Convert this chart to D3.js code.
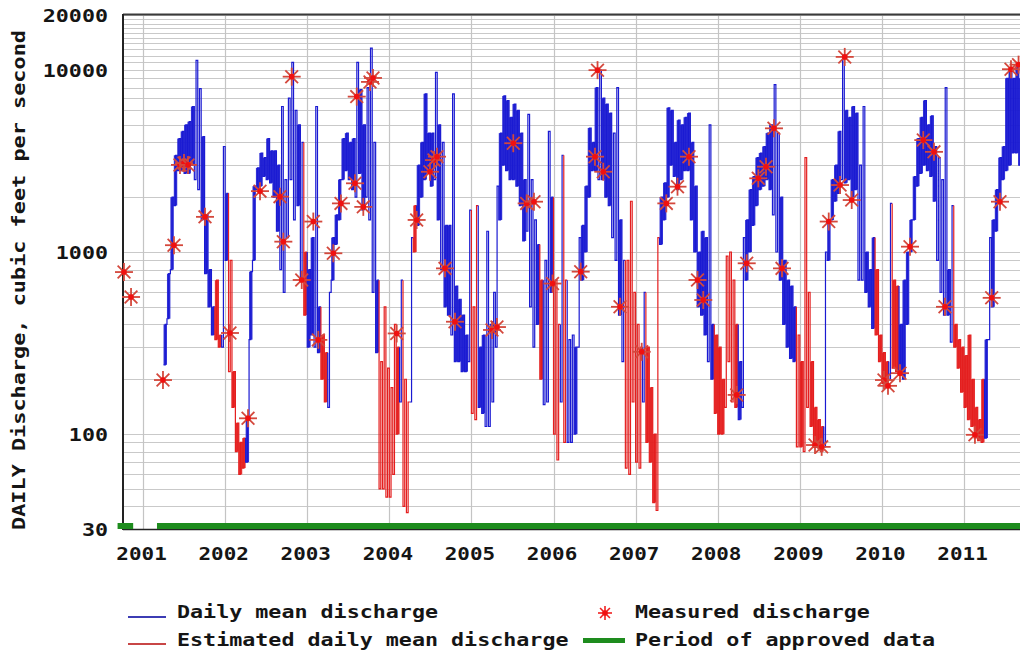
<!DOCTYPE html>
<html>
<head>
<meta charset="utf-8">
<script src="https://cdn.jsdelivr.net/npm/d3@7"></script>
<style>
  body { margin: 0; background: #fff; }
  svg { display: block; }
  text { font-family: "DejaVu Sans Mono", "Liberation Mono", monospace; font-weight: bold; fill: #151515; }
</style>
</head>
<body>
<div class="div-chart"></div>
<script>
// Water years run Oct 1 - Sep 30; each one is read as 24 half-month periods.
const waterYears = [2001, 2002, 2003, 2004, 2005, 2006, 2007, 2008, 2009, 2010, 2011];

// lowest daily mean discharge in each half month (cfs), null = no record
const periodLow = [
  [null, null, null, null, null, null, null, null, null, null, null, null, 240, 430, 800, 1800, 2800, 2800, 2700, 2700, 3000, 2500, 2200, 1500],
  [760, 500, 350, 330, 300, 300, 900, 220, 140, 80, 60, 65, 70, 330, 900, 2200, 2300, 2600, 2500, 2400, 2000, 1300, 800, 600],
  [1200, 2500, 1500, 1800, 700, 450, 300, 350, 300, 280, 200, 150, 140, 700, 1100, 1500, 2500, 2800, 2500, 2200, 2000, 2700, 1700, 2000],
  [1500, 600, 280, 50, 50, 45, 45, 60, 100, 150, 40, 37, 150, 1000, 1400, 2000, 2500, 2800, 2300, 2500, 1500, 800, 500, 450],
  [350, 250, 250, 220, 220, 250, 130, 120, 140, 130, 110, 110, 150, 300, 1500, 3000, 2800, 2500, 2500, 2300, 1800, 1150, 1300, 500],
  [300, 400, 200, 145, 150, 600, 100, 72, 150, 90, 90, 90, 100, 300, 700, 1000, 2000, 2800, 2800, 2500, 2500, 2000, 1800, 1200],
  [900, 450, 250, 65, 60, 150, 70, 65, 150, 90, 70, 42, 38, 1100, 1500, 2000, 3000, 2600, 2200, 2500, 2800, 2800, 1500, 1000],
  [500, 450, 350, 250, 200, 130, 100, 100, 140, 250, 150, 140, 120, 140, 700, 1000, 1400, 1800, 2200, 2300, 2500, 2200, 1600, 1000],
  [700, 400, 300, 260, 250, 85, 85, 80, 140, 110, 85, 85, 80, 85, 900, 1500, 1900, 2100, 2500, 2400, 2500, 2000, 2200, 700],
  [700, 600, 500, 380, 350, 250, 190, 180, 200, 230, 220, 210, 200, 400, 1000, 1500, 2300, 2700, 3000, 2800, 2600, 1900, 900, 600],
  [450, 450, 320, 300, 230, 170, 140, 120, 110, 95, 92, 90, 95, 330, 500, 1300, 1900, 2500, 2800, 3000, 3500, 3500, 3000, 3000]
];

// highest daily mean discharge in each half month (cfs)
const periodHigh = [
  [null, null, null, null, null, null, null, null, null, null, null, null, 400, 760, 2000, 3400, 4200, 4600, 5000, 5200, 6300, 11300, 7900, 4300],
  [1600, 800, 500, 700, 350, 3800, 2100, 900, 220, 115, 90, 95, 125, 780, 2300, 2900, 3500, 3300, 4200, 3600, 3600, 3000, 6300, 2500],
  [7000, 11000, 6000, 5000, 4000, 1000, 800, 1200, 6300, 500, 350, 280, 600, 1200, 1600, 2500, 4200, 4500, 4000, 4200, 11000, 7800, 5000, 8000],
  [13200, 4000, 700, 250, 500, 230, 180, 400, 300, 700, 200, 150, 1200, 1800, 3000, 4000, 7400, 4500, 4500, 9700, 5000, 4000, 1400, 1400],
  [7400, 650, 550, 450, 350, 1700, 500, 1800, 300, 350, 1300, 400, 600, 2300, 4500, 7200, 6800, 5500, 6500, 6000, 4500, 2500, 5700, 2500],
  [1500, 1100, 700, 900, 4600, 2000, 700, 400, 3400, 700, 330, 350, 300, 1200, 1400, 2300, 4800, 4000, 8000, 10000, 7000, 6500, 5800, 4500],
  [8000, 1500, 900, 900, 1900, 600, 400, 300, 600, 300, 180, 100, 1200, 2000, 2400, 6200, 6000, 4000, 5300, 5000, 5500, 5800, 4000, 2300],
  [1000, 1300, 1200, 5000, 400, 350, 300, 200, 950, 1000, 700, 400, 250, 1200, 1500, 2200, 2600, 3300, 3500, 3800, 4500, 5000, 8300, 4500],
  [2000, 900, 700, 650, 500, 350, 250, 3300, 600, 250, 140, 120, 110, 1000, 1500, 2500, 3000, 4600, 12000, 6000, 5500, 6300, 5800, 3000],
  [6300, 1000, 800, 1200, 800, 350, 280, 250, 1850, 700, 650, 400, 700, 1000, 1500, 2600, 4200, 5500, 6800, 5000, 5600, 3800, 3300, 2500],
  [8000, 800, 1800, 400, 330, 300, 270, 350, 200, 140, 120, 200, 330, 1200, 1500, 2200, 3300, 3800, 9000, 10000, 9000, 10500, 9000, 8000]
];

// A = approved daily values, E = estimated, - = no record
const periodQual = [
  "------------AAAAAAAAAAAA",
  "AAAEEAAEEEEEAAAAAAAAAAAA",
  "AAAAAEAAAAEEAAAAAAAAAAAA",
  "AAAEEEEEEAEEAEAAAAAAAAAA",
  "AAAAAAEEAAAAAAAAAAAAAAAA",
  "AAEAAAEEAEAAAAAAAAAAAAAA",
  "AAAEEEEEAEEEEAAAAAAAAAAA",
  "AAAAAEEEEEEEAAAAAAAAAAAA",
  "AAAAAEEEEEEEEAAAAAAAAAAA",
  "AAAAEEEEAEEAAAAAAAAAAAAA",
  "AAAEEEEEEEEEAAAAAAAAAAAA"
];

// field measurements (decimal year, cfs)
const measuredYear = [2000.768, 2000.854, 2001.243, 2001.377, 2001.450, 2001.499, 2001.548, 2001.755, 2002.059, 2002.279,
  2002.425, 2002.668, 2002.709, 2002.811, 2002.933, 2003.074, 2003.135, 2003.318, 2003.411, 2003.582,
  2003.603, 2003.683, 2003.765, 2003.801, 2004.090, 2004.333, 2004.495, 2004.544, 2004.581, 2004.678,
  2004.800, 2005.251, 2005.311, 2005.510, 2005.673, 2005.762, 2005.988, 2006.331, 2006.505, 2006.536,
  2006.606, 2006.810, 2007.074, 2007.374, 2007.510, 2007.650, 2007.754, 2007.824, 2008.231, 2008.353,
  2008.494, 2008.588, 2008.685, 2008.783, 2009.185, 2009.266, 2009.352, 2009.490, 2009.547, 2009.632,
  2010.025, 2010.074, 2010.220, 2010.342, 2010.504, 2010.634, 2010.768, 2011.133, 2011.337, 2011.438,
  2011.572, 2011.664];
const measuredValue = [776, 566, 198, 1090, 3010, 3080, 3010, 1560, 359, 122,
  2160, 2015, 1140, 9190, 702, 1470, 329, 984, 1850, 2385,
  7140, 1770, 8600, 9040, 357, 1500, 2760, 3200, 3340, 813,
  414, 373, 387, 3960, 1850, 1890, 671, 780, 3340, 9980,
  2760, 500, 283, 1850, 2285, 3340, 702, 545, 164, 867,
  2540, 2940, 4780, 813, 87, 85, 1470, 2333, 11800, 1930,
  198, 184, 216, 1070, 4120, 3550, 500, 99, 560, 1890,
  10100, 10700];

const approvedPeriods = [[2000.69, 2000.88], [2001.17, 2011.75]];

const yTickValues = [30, 100, 1000, 10000, 20000];
const yearTicks = [2001, 2002, 2003, 2004, 2005, 2006, 2007, 2008, 2009, 2010, 2011];

const width = 1020,
  height = 658;
const charW = 13.05; // the picture's monospace font is wide set

const blue = "#1a1ad2",
  red = "#e41e1e";

const svg = d3
  .select(".div-chart")
  .append("svg")
  .attr("width", width)
  .attr("height", height);

svg.append("rect").attr("width", width).attr("height", height).attr("fill", "#fff");

const x = d3.scaleLinear().domain([2000.75, 2011.75]).range([122.5, 1025.6]);
const y = d3.scaleLog().domain([30, 20000]).range([529.2, 15.2]);

const plotLeft = 123,
  plotRight = x(2011.75),
  plotTop = 15,
  plotBottom = 529;

// gridlines: every 10 below 100, every 100 below 1000, every 1000 above
const gridValues = [];
[10, 100, 1000].forEach((dec) => d3.range(1, 10).forEach((m) => gridValues.push(m * dec)));
d3.range(10000, 20001, 1000).forEach((v) => gridValues.push(v));

const gridG = svg.append("g").attr("id", "grid");
gridG
  .selectAll("line.h")
  .data(gridValues.filter((v) => v >= 30 && v <= 20000))
  .join("line")
  .attr("class", "h")
  .attr("x1", plotLeft)
  .attr("x2", plotRight)
  .attr("y1", (d) => Math.round(y(d)) + 0.5)
  .attr("y2", (d) => Math.round(y(d)) + 0.5)
  .attr("stroke", "#c9c9c9")
  .attr("stroke-width", 1);

gridG
  .selectAll("line.v")
  .data(yearTicks)
  .join("line")
  .attr("class", "v")
  .attr("x1", (d) => Math.round(x(d)) + 0.5)
  .attr("x2", (d) => Math.round(x(d)) + 0.5)
  .attr("y1", plotTop)
  .attr("y2", plotBottom)
  .attr("stroke", "#c4c4c4")
  .attr("stroke-width", 1.2);

// build the half-month records: low then high in each period
const periods = [];
const points = [];
waterYears.forEach((wy, i) => {
  for (let k = 0; k < 24; k++) {
    const q = periodQual[i][k];
    const t0 = wy - 0.25 + k / 24; // water year starts on Oct 1 of the previous year
    if (q === "-") {
      points.push(null);
      continue;
    }
    periods.push({ t0: t0, t1: t0 + 1 / 24, lo: periodLow[i][k], hi: periodHigh[i][k], q: q });
    points.push({ t: t0, v: periodLow[i][k], q: q });
    points.push({ t: t0 + 1 / 48, v: periodHigh[i][k], q: q });
  }
});

// split into runs of the same qualification so they can be coloured
const runs = [];
let cur = null;
points.forEach((p, i) => {
  if (!p) {
    cur = null;
    return;
  }
  if (!cur || cur.q !== p.q) {
    cur = { q: p.q, pts: [] };
    const prev = points[i - 1];
    if (prev) cur.pts.push({ t: p.t, v: prev.v });
    runs.push(cur);
  }
  cur.pts.push(p);
  const next = points[i + 1];
  if (!next || next.q !== p.q) {
    cur.pts.push({ t: next ? next.t : p.t + 1 / 48, v: p.v });
  }
});

svg
  .append("clipPath")
  .attr("id", "plot-clip")
  .append("rect")
  .attr("x", plotLeft)
  .attr("y", plotTop - 1)
  .attr("width", plotRight - plotLeft)
  .attr("height", plotBottom - plotTop + 1);

const plotG = svg.append("g").attr("clip-path", "url(#plot-clip)");

// half months where the daily values swing inside a narrow band read as a solid block
plotG
  .append("g")
  .selectAll("rect")
  .data(periods.filter((d) => d.hi / d.lo <= 3.5))
  .join("rect")
  .attr("x", (d) => x(d.t0))
  .attr("width", (d) => x(d.t1) - x(d.t0))
  .attr("y", (d) => y(d.hi))
  .attr("height", (d) => y(d.lo) - y(d.hi))
  .attr("fill", (d) => (d.q === "E" ? red : blue))
  .attr("opacity", 0.9);

const line = d3
  .line()
  .x((d) => x(d.t))
  .y((d) => y(d.v))
  .curve(d3.curveStepAfter);

plotG
  .append("g")
  .selectAll("path")
  .data(runs)
  .join("path")
  .attr("d", (d) => line(d.pts))
  .attr("fill", "none")
  .attr("stroke", (d) => (d.q === "E" ? red : blue))
  .attr("stroke-width", 1.2);

// frame
svg.append("line").attr("x1", plotLeft).attr("x2", plotRight).attr("y1", 14.5).attr("y2", 14.5)
  .attr("stroke", "#3a3a3a").attr("stroke-width", 2);
svg.append("line").attr("x1", plotLeft).attr("x2", plotRight).attr("y1", plotBottom + 0.5).attr("y2", plotBottom + 0.5)
  .attr("stroke", "#222").attr("stroke-width", 1.5);
svg.append("line").attr("x1", plotLeft).attr("x2", plotLeft).attr("y1", 14).attr("y2", plotBottom + 1)
  .attr("stroke", "#222").attr("stroke-width", 2);

// period of approved data
svg
  .append("g")
  .selectAll("rect")
  .data(approvedPeriods)
  .join("rect")
  .attr("x", (d) => x(d[0]))
  .attr("width", (d) => x(d[1]) - x(d[0]))
  .attr("y", 523)
  .attr("height", 6)
  .attr("fill", "#1e8c1e");

// measured discharge asterisks
function asterisk(g, r, stroke, sw) {
  [0, 45, 90, 135].forEach((a) => {
    const rad = (a * Math.PI) / 180;
    g.append("line")
      .attr("x1", -r * Math.cos(rad))
      .attr("y1", -r * Math.sin(rad))
      .attr("x2", r * Math.cos(rad))
      .attr("y2", r * Math.sin(rad))
      .attr("stroke", stroke)
      .attr("stroke-width", sw);
  });
  g.append("circle").attr("r", 2.8).attr("fill", "#f01010");
}

svg
  .append("g")
  .selectAll("g")
  .data(measuredYear.map((t, i) => ({ t: t, v: measuredValue[i] })))
  .join("g")
  .attr("transform", (d) => `translate(${x(d.t)},${y(d.v)})`)
  .each(function () {
    asterisk(d3.select(this), 9, "#d4483c", 1.8);
  });

// axes
const yAxis = d3
  .axisLeft(y)
  .tickValues(yTickValues)
  .tickFormat(d3.format("d"))
  .tickSize(0)
  .tickPadding(15);

svg
  .append("g")
  .attr("transform", `translate(${plotLeft},0)`)
  .call(yAxis)
  .call((g) => g.select(".domain").remove())
  .selectAll("text")
  .attr("font-size", 18)
  .attr("dy", "0.36em")
  .attr("textLength", (d) => String(d).length * charW)
  .attr("lengthAdjust", "spacingAndGlyphs");

const xAxis = d3
  .axisBottom(x)
  .tickValues(yearTicks)
  .tickFormat(d3.format("d"))
  .tickSize(0)
  .tickPadding(18);

svg
  .append("g")
  .attr("transform", `translate(-2,${plotBottom})`)
  .call(xAxis)
  .call((g) => g.select(".domain").remove())
  .selectAll("text")
  .attr("font-size", 18)
  .attr("textLength", 4 * 12.6)
  .attr("lengthAdjust", "spacingAndGlyphs");

svg
  .append("text")
  .attr("transform", "translate(25,280) rotate(-90)")
  .attr("text-anchor", "middle")
  .attr("font-size", 18)
  .attr("textLength", 500)
  .attr("lengthAdjust", "spacingAndGlyphs")
  .text("DAILY Discharge, cubic feet per second");

// legend
const legend = svg.append("g").attr("id", "legend");
const legendText = (tx, ty, label) =>
  legend
    .append("text")
    .attr("x", tx)
    .attr("y", ty)
    .attr("font-size", 17)
    .attr("textLength", label.length * charW)
    .attr("lengthAdjust", "spacingAndGlyphs")
    .text(label);

legend.append("line").attr("x1", 128).attr("x2", 166).attr("y1", 617).attr("y2", 617)
  .attr("stroke", "#3c3cb4").attr("stroke-width", 2);
legendText(177, 618, "Daily mean discharge");

legend.append("line").attr("x1", 128).attr("x2", 166).attr("y1", 644).attr("y2", 644)
  .attr("stroke", "#c84646").attr("stroke-width", 2);
legendText(177, 646, "Estimated daily mean discharge");

asterisk(legend.append("g").attr("transform", "translate(605,613)"), 7, "#f02020", 1.6);
legendText(635, 618, "Measured discharge");

legend.append("rect").attr("x", 583).attr("y", 638).attr("width", 42).attr("height", 5)
  .attr("fill", "#1e8c1e");
legendText(635, 646, "Period of approved data");
</script>
</body>
</html>
